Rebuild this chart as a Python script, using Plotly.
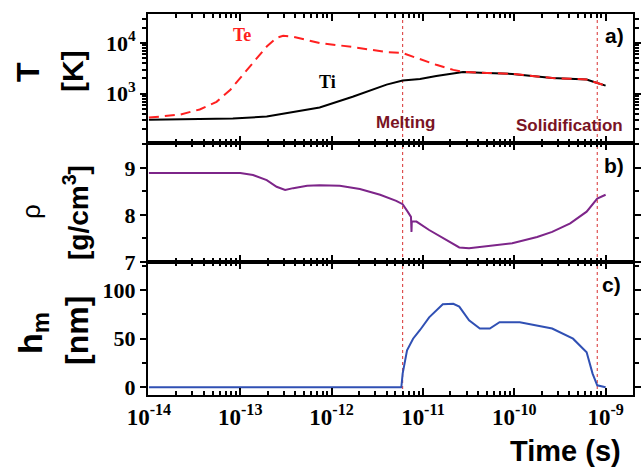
import plotly.graph_objects as go

# ---------------- data ----------------
t_Ti = [1.0e-14, 8.3e-14, 1.95e-13, 3.55e-13, 5.4e-13, 7.4e-13, 1.7e-12, 4.0e-12, 6.0e-12,
        9.3e-12, 1.4e-11, 2.15e-11, 2.75e-11, 5.0e-11, 9.5e-11, 2.6e-10, 6.2e-10, 7.2e-10, 1.0e-9]
T_i = [309, 324, 355, 427, 490, 537, 871, 1514, 1820,
       1950, 2240, 2570, 2690, 2570, 2455, 2040, 1905, 1740, 1445]

t_Te = [1.0e-14, 2.2e-14, 3.6e-14, 5.5e-14, 7.8e-14, 1.0e-13, 1.4e-13, 1.95e-13, 2.5e-13,
        2.95e-13, 3.8e-13, 7.4e-13, 1.7e-12, 4.0e-12, 6.0e-12, 9.3e-12, 1.4e-11, 2.15e-11,
        2.75e-11, 5.0e-11, 9.5e-11, 2.6e-10, 6.2e-10, 7.2e-10, 1.0e-9]
T_e = [339, 389, 490, 692, 1202, 2042, 4266, 8511, 12589,
       13804, 13183, 10000, 8318, 6607, 6310, 4786, 3715, 2951,
       2692, 2570, 2455, 2042, 1905, 1738, 1445]

t_rho = [1.0e-14, 1.0e-13, 1.38e-13, 1.95e-13, 2.5e-13, 3.1e-13, 3.8e-13, 5.4e-13, 7.4e-13,
         1.23e-12, 2.04e-12, 3.4e-12, 5.1e-12, 6.0e-12, 6.8e-12, 7.4e-12, 7.5e-12, 7.55e-12,
         8.5e-12, 1.17e-11, 1.8e-11, 2.5e-11, 3.2e-11, 5.0e-11, 9.5e-11, 1.78e-10, 2.6e-10,
         4.1e-10, 6.2e-10, 8.1e-10, 1.0e-9]
rho = [8.89, 8.89, 8.85, 8.74, 8.60, 8.53, 8.57, 8.62, 8.63,
       8.62, 8.55, 8.43, 8.30, 8.23, 8.07, 7.96, 7.64, 7.86,
       7.86, 7.68, 7.47, 7.31, 7.29, 7.34, 7.40, 7.53, 7.64,
       7.82, 8.07, 8.35, 8.43]

t_h = [1.0e-14, 5.8e-12, 6.0e-12, 6.7e-12, 7.8e-12, 9.3e-12, 1.17e-11, 1.4e-11, 1.65e-11,
       2.15e-11, 2.5e-11, 3.2e-11, 4.2e-11, 5.4e-11, 6.9e-11, 1.15e-10, 2.6e-10, 4.4e-10,
       6.2e-10, 7.2e-10, 8.1e-10, 1.0e-9]
h_m = [0, 0, 14, 38, 50, 59, 72, 79, 85.5,
       86, 83, 69, 60.5, 60.5, 67, 67, 60.5, 50,
       36, 14, 2, 0]

t_events = [6.0e-12, 8.1e-10]          # melting, solidification
event_labels = ["Melting", "Solidification"]
x_ticks = [1e-14, 1e-13, 1e-12, 1e-11, 1e-10, 1e-9]
x_ticktext = ["10<sup>-14</sup>", "10<sup>-13</sup>", "10<sup>-12</sup>",
              "10<sup>-11</sup>", "10<sup>-10</sup>", "10<sup>-9</sup>"]
T_ticks = [1e3, 1e4]
T_ticktext = ["10<sup>3</sup>", "10<sup>4</sup>"]

# ---------------- layout helpers ----------------
W, H = 641, 470
ML, MR, MT, MB = 148, 8, 14, 75
PW, PH = W - ML - MR, H - MT - MB


def px(x):
    return (x - ML) / PW


def py(y):
    return (H - MB - y) / PH


d_top = [py(143), 1.0]
d_mid = [py(262), py(143)]
d_bot = [0.0, py(262)]

fig = go.Figure()

fig.add_trace(go.Scatter(x=t_Ti, y=T_i, mode="lines", line=dict(color="black", width=2),
                         xaxis="x3", yaxis="y3", showlegend=False))
fig.add_trace(go.Scatter(x=t_Te, y=T_e, mode="lines",
                         line=dict(color="#ff2020", width=2, dash="10px,6px"),
                         xaxis="x3", yaxis="y3", showlegend=False))
fig.add_trace(go.Scatter(x=t_rho, y=rho, mode="lines", line=dict(color="#7d2589", width=2),
                         xaxis="x2", yaxis="y2", showlegend=False))
fig.add_trace(go.Scatter(x=t_h, y=h_m, mode="lines", line=dict(color="#3050b4", width=2),
                         xaxis="x", yaxis="y", showlegend=False))

tickfont = dict(family="Liberation Serif", size=23, color="black", weight="bold")
xrange = [-14.01, -8.70]

xcommon = dict(type="log", range=xrange, showline=True, linewidth=2, linecolor="black",
               mirror="ticks", ticks="inside", ticklen=7, tickwidth=2, tickcolor="black",
               tickvals=x_ticks, ticktext=x_ticktext, showgrid=False, zeroline=False,
               automargin=False,
               minor=dict(ticks="inside", ticklen=4, tickwidth=1.5, tickcolor="black",
                          dtick="D1", showgrid=False),
               tickfont=tickfont)
ycommon = dict(showline=True, linewidth=2, linecolor="black", mirror="ticks",
               ticks="outside", ticklen=6, tickwidth=2, tickcolor="black", automargin=False,
               showgrid=False, zeroline=False, tickfont=dict(tickfont, size=22))

fig.update_layout(
    width=W, height=H,
    margin=dict(l=ML, r=MR, t=MT, b=MB),
    paper_bgcolor="white", plot_bgcolor="white",
    xaxis=dict(xcommon, anchor="y", domain=[0, 1], showticklabels=True),
    xaxis2=dict(xcommon, anchor="y2", domain=[0, 1], matches="x", showticklabels=False),
    xaxis3=dict(xcommon, anchor="y3", domain=[0, 1], matches="x", showticklabels=False),
    yaxis=dict(ycommon, anchor="x", domain=d_bot, range=[-8, 129], tickvals=[0, 50, 100],
               minor=dict(ticks="outside", ticklen=4, tickwidth=1.5, tickcolor="black", dtick=25)),
    yaxis2=dict(ycommon, anchor="x2", domain=d_mid, range=[7, 9.53], tickvals=[7, 8, 9],
                minor=dict(ticks="outside", ticklen=4, tickwidth=1.5, tickcolor="black", dtick=0.5)),
    yaxis3=dict(ycommon, anchor="x3", domain=d_top, type="log", range=[2.03, 4.57],
                tickvals=T_ticks, ticktext=T_ticktext,
                minor=dict(ticks="outside", ticklen=4, tickwidth=1.5, tickcolor="black", dtick="D1")),
)

for te in t_events:
    fig.add_shape(type="line", xref="x", yref="paper", x0=te, x1=te, y0=0, y1=1,
                  line=dict(color="#d83030", width=1, dash="dot"), layer="below")

ann = []


def add(text, x, y, size, color="black", family="Liberation Sans", weight="bold", angle=0):
    ann.append(dict(text=text, xref="paper", yref="paper", x=px(x), y=py(y),
                    xanchor="center", yanchor="middle", showarrow=False, textangle=angle,
                    font=dict(family=family, size=size, color=color, weight=weight)))


# y titles
add("T", 28, 72, 32, angle=-90)
add("[K]", 73, 71, 30, angle=-90)
add("ρ", 31, 212, 26, weight="normal", angle=-90)
add("[g/cm<sup>3</sup>]", 76, 213, 28, angle=-90)
add("h<sub>m</sub>", 32, 333, 34, angle=-90)
add("[nm]", 77, 331, 32, angle=-90)
# x title
add("Time (s)", 565, 451, 29)
# panel labels
add("a)", 614, 36, 21)
add("b)", 614, 165, 21)
add("c)", 611, 285, 21)
# curve labels
add("Te", 242, 35, 18, color="#ff2020", family="Liberation Serif")
add("Ti", 327, 82, 18, family="Liberation Serif")
# event labels
add(event_labels[0], 406, 122, 17, color="#7a1424")
add(event_labels[1], 569, 125, 17, color="#7a1424")

fig.update_layout(annotations=ann)
fig.write_html("out.html", config={"displayModeBar": False},
               post_script="document.body.style.margin='0';document.body.style.overflow='hidden';")
